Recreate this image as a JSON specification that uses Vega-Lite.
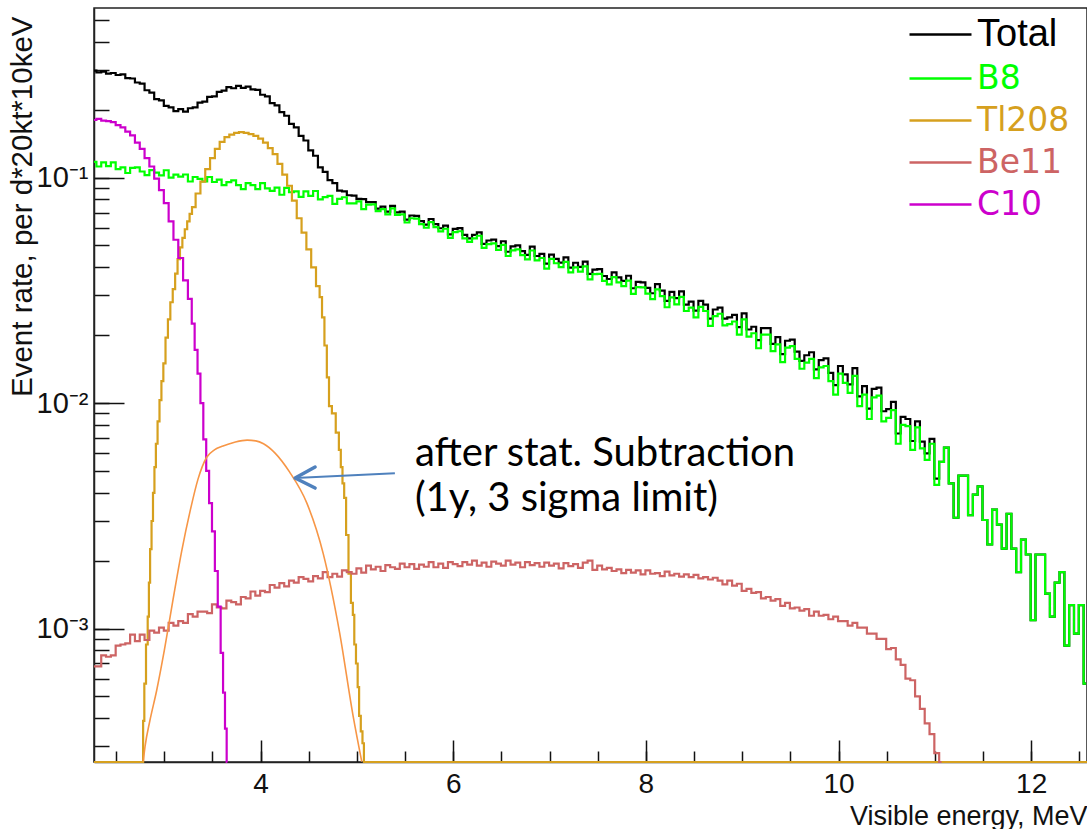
{
"$schema":"https://vega.github.io/schema/vega-lite/v6.json",
"width":993,"height":754,
"autosize":{"type":"none"},
"padding":{"left":94,"top":8,"right":0,"bottom":67},
"background":"white",
"config":{"view":{"stroke":"#222","strokeWidth":1.5},"font":"Liberation Sans"},
"resolve":{"axis":{"x":"independent","y":"independent"}},
"datasets":{
"tot":[{"E":2.27,"v":0.298},{"E":2.32,"v":0.293},{"E":2.37,"v":0.295},{"E":2.42,"v":0.289},{"E":2.47,"v":0.291},{"E":2.52,"v":0.285},{"E":2.57,"v":0.287},{"E":2.62,"v":0.276},{"E":2.67,"v":0.275},{"E":2.72,"v":0.264},{"E":2.77,"v":0.261},{"E":2.82,"v":0.244},{"E":2.87,"v":0.238},{"E":2.92,"v":0.223},{"E":2.97,"v":0.220},{"E":3.02,"v":0.208},{"E":3.07,"v":0.205},{"E":3.12,"v":0.197},{"E":3.17,"v":0.201},{"E":3.22,"v":0.196},{"E":3.27,"v":0.203},{"E":3.32,"v":0.205},{"E":3.37,"v":0.215},{"E":3.42,"v":0.217},{"E":3.47,"v":0.228},{"E":3.52,"v":0.229},{"E":3.57,"v":0.240},{"E":3.62,"v":0.243},{"E":3.67,"v":0.252},{"E":3.72,"v":0.249},{"E":3.77,"v":0.255},{"E":3.82,"v":0.250},{"E":3.87,"v":0.253},{"E":3.92,"v":0.246},{"E":3.97,"v":0.245},{"E":4.02,"v":0.233},{"E":4.07,"v":0.229},{"E":4.12,"v":0.214},{"E":4.17,"v":0.209},{"E":4.22,"v":0.195},{"E":4.27,"v":0.188},{"E":4.32,"v":0.173},{"E":4.37,"v":0.167},{"E":4.42,"v":0.153},{"E":4.47,"v":0.146},{"E":4.52,"v":0.132},{"E":4.57,"v":0.125},{"E":4.62,"v":0.111},{"E":4.67,"v":0.106},{"E":4.72,"v":0.0975},{"E":4.77,"v":0.0945},{"E":4.82,"v":0.0875},{"E":4.87,"v":0.0868},{"E":4.92,"v":0.0835},{"E":4.97,"v":0.0832},{"E":5.02,"v":0.0805},{"E":5.07,"v":0.0802},{"E":5.12,"v":0.0778},{"E":5.17,"v":0.0779},{"E":5.22,"v":0.0729},{"E":5.27,"v":0.0743},{"E":5.32,"v":0.0706},{"E":5.37,"v":0.0749},{"E":5.42,"v":0.0701},{"E":5.47,"v":0.0706},{"E":5.52,"v":0.0651},{"E":5.57,"v":0.0679},{"E":5.62,"v":0.0676},{"E":5.67,"v":0.0641},{"E":5.72,"v":0.0618},{"E":5.77,"v":0.0655},{"E":5.82,"v":0.0622},{"E":5.87,"v":0.0596},{"E":5.92,"v":0.0612},{"E":5.97,"v":0.0560},{"E":6.02,"v":0.0592},{"E":6.07,"v":0.0597},{"E":6.12,"v":0.0557},{"E":6.17,"v":0.0538},{"E":6.22,"v":0.0557},{"E":6.27,"v":0.0571},{"E":6.32,"v":0.0508},{"E":6.37,"v":0.0526},{"E":6.42,"v":0.0531},{"E":6.47,"v":0.0497},{"E":6.52,"v":0.0522},{"E":6.57,"v":0.0469},{"E":6.62,"v":0.0495},{"E":6.67,"v":0.0500},{"E":6.72,"v":0.0472},{"E":6.77,"v":0.0454},{"E":6.82,"v":0.0494},{"E":6.87,"v":0.0449},{"E":6.92,"v":0.0459},{"E":6.97,"v":0.0415},{"E":7.02,"v":0.0455},{"E":7.07,"v":0.0436},{"E":7.12,"v":0.0420},{"E":7.17,"v":0.0443},{"E":7.22,"v":0.0399},{"E":7.27,"v":0.0419},{"E":7.32,"v":0.0402},{"E":7.37,"v":0.0424},{"E":7.42,"v":0.0374},{"E":7.47,"v":0.0391},{"E":7.52,"v":0.0393},{"E":7.57,"v":0.0366},{"E":7.62,"v":0.0355},{"E":7.67,"v":0.0380},{"E":7.72,"v":0.0361},{"E":7.77,"v":0.0348},{"E":7.82,"v":0.0367},{"E":7.87,"v":0.0323},{"E":7.92,"v":0.0345},{"E":7.97,"v":0.0343},{"E":8.02,"v":0.0324},{"E":8.07,"v":0.0307},{"E":8.12,"v":0.0337},{"E":8.17,"v":0.0315},{"E":8.22,"v":0.0284},{"E":8.27,"v":0.0311},{"E":8.32,"v":0.0292},{"E":8.37,"v":0.0313},{"E":8.42,"v":0.0273},{"E":8.47,"v":0.0282},{"E":8.52,"v":0.0257},{"E":8.57,"v":0.0284},{"E":8.62,"v":0.0273},{"E":8.67,"v":0.0237},{"E":8.72,"v":0.0260},{"E":8.77,"v":0.0265},{"E":8.82,"v":0.0237},{"E":8.87,"v":0.0240},{"E":8.92,"v":0.0246},{"E":8.97,"v":0.0217},{"E":9.02,"v":0.0250},{"E":9.07,"v":0.0212},{"E":9.12,"v":0.0218},{"E":9.17,"v":0.0190},{"E":9.22,"v":0.0215},{"E":9.27,"v":0.0215},{"E":9.32,"v":0.0183},{"E":9.37,"v":0.0196},{"E":9.42,"v":0.0165},{"E":9.47,"v":0.0189},{"E":9.52,"v":0.0191},{"E":9.57,"v":0.0169},{"E":9.62,"v":0.0154},{"E":9.67,"v":0.0163},{"E":9.72,"v":0.0168},{"E":9.77,"v":0.0141},{"E":9.82,"v":0.0155},{"E":9.87,"v":0.0158},{"E":9.92,"v":0.0136},{"E":9.97,"v":0.0120},{"E":10.02,"v":0.0146},{"E":10.07,"v":0.0134},{"E":10.12,"v":0.0121},{"E":10.17,"v":0.0143},{"E":10.22,"v":0.0107},{"E":10.27,"v":0.0119},{"E":10.32,"v":0.00945},{"E":10.37,"v":0.01155},{"E":10.42,"v":0.0117},{"E":10.47,"v":0.0092},{"E":10.52,"v":0.00941},{"E":10.57,"v":0.01012},{"E":10.62,"v":0.00733},{"E":10.67,"v":0.00869},{"E":10.72,"v":0.0085},{"E":10.77,"v":0.00679},{"E":10.82,"v":0.0083},{"E":10.87,"v":0.00674},{"E":10.92,"v":0.00598},{"E":10.97,"v":0.00694},{"E":11.02,"v":0.00462},{"E":11.07,"v":0.00549},{"E":11.12,"v":0.00635},{"E":11.17,"v":0.00440},{"E":11.22,"v":0.00310},{"E":11.27,"v":0.00477},{"E":11.32,"v":0.00477},{"E":11.37,"v":0.00318},{"E":11.42,"v":0.00393},{"E":11.47,"v":0.00427},{"E":11.52,"v":0.00303},{"E":11.57,"v":0.00236},{"E":11.62,"v":0.00337},{"E":11.67,"v":0.00289},{"E":11.72,"v":0.00226},{"E":11.77,"v":0.00323},{"E":11.82,"v":0.00226},{"E":11.87,"v":0.00178},{"E":11.92,"v":0.00248},{"E":11.97,"v":0.00213},{"E":12.02,"v":0.00109},{"E":12.07,"v":0.00213},{"E":12.12,"v":0.00213},{"E":12.17,"v":0.00143},{"E":12.22,"v":0.00113},{"E":12.27,"v":0.00160},{"E":12.32,"v":0.00178},{"E":12.37,"v":0.00084},{"E":12.42,"v":0.00127},{"E":12.47,"v":0.00095},{"E":12.52,"v":0.00127},{"E":12.57,"v":0.00057}],
"b8":[{"E":2.27,"v":0.1174},{"E":2.32,"v":0.1120},{"E":2.37,"v":0.1168},{"E":2.42,"v":0.1124},{"E":2.47,"v":0.1168},{"E":2.52,"v":0.1091},{"E":2.57,"v":0.1109},{"E":2.62,"v":0.1048},{"E":2.67,"v":0.1104},{"E":2.72,"v":0.1110},{"E":2.77,"v":0.1064},{"E":2.82,"v":0.1026},{"E":2.87,"v":0.1079},{"E":2.92,"v":0.1052},{"E":2.97,"v":0.1023},{"E":3.02,"v":0.1078},{"E":3.07,"v":0.0999},{"E":3.12,"v":0.1031},{"E":3.17,"v":0.1009},{"E":3.22,"v":0.1032},{"E":3.27,"v":0.0961},{"E":3.32,"v":0.1006},{"E":3.37,"v":0.0987},{"E":3.42,"v":0.0961},{"E":3.47,"v":0.1006},{"E":3.52,"v":0.0956},{"E":3.57,"v":0.0979},{"E":3.62,"v":0.0925},{"E":3.67,"v":0.0955},{"E":3.72,"v":0.0972},{"E":3.77,"v":0.0925},{"E":3.82,"v":0.0888},{"E":3.87,"v":0.0945},{"E":3.92,"v":0.0926},{"E":3.97,"v":0.0889},{"E":4.02,"v":0.0944},{"E":4.07,"v":0.0896},{"E":4.12,"v":0.0873},{"E":4.17,"v":0.0902},{"E":4.22,"v":0.0839},{"E":4.27,"v":0.0901},{"E":4.32,"v":0.0861},{"E":4.37,"v":0.0869},{"E":4.42,"v":0.0821},{"E":4.47,"v":0.0869},{"E":4.52,"v":0.0829},{"E":4.57,"v":0.0872},{"E":4.62,"v":0.0801},{"E":4.67,"v":0.0819},{"E":4.72,"v":0.0829},{"E":4.77,"v":0.0764},{"E":4.82,"v":0.0804},{"E":4.87,"v":0.0818},{"E":4.92,"v":0.0768},{"E":4.97,"v":0.0768},{"E":5.02,"v":0.0784},{"E":5.07,"v":0.0725},{"E":5.12,"v":0.0759},{"E":5.17,"v":0.0761},{"E":5.22,"v":0.0710},{"E":5.27,"v":0.0725},{"E":5.32,"v":0.0687},{"E":5.37,"v":0.0730},{"E":5.42,"v":0.0683},{"E":5.47,"v":0.0687},{"E":5.52,"v":0.0632},{"E":5.57,"v":0.0660},{"E":5.62,"v":0.0658},{"E":5.67,"v":0.0622},{"E":5.72,"v":0.0599},{"E":5.77,"v":0.0635},{"E":5.82,"v":0.0603},{"E":5.87,"v":0.0577},{"E":5.92,"v":0.0593},{"E":5.97,"v":0.0540},{"E":6.02,"v":0.0573},{"E":6.07,"v":0.0578},{"E":6.12,"v":0.0537},{"E":6.17,"v":0.0519},{"E":6.22,"v":0.0537},{"E":6.27,"v":0.0552},{"E":6.32,"v":0.0488},{"E":6.37,"v":0.0507},{"E":6.42,"v":0.0511},{"E":6.47,"v":0.0478},{"E":6.52,"v":0.0503},{"E":6.57,"v":0.0449},{"E":6.62,"v":0.0476},{"E":6.67,"v":0.0480},{"E":6.72,"v":0.0453},{"E":6.77,"v":0.0434},{"E":6.82,"v":0.0475},{"E":6.87,"v":0.0429},{"E":6.92,"v":0.0440},{"E":6.97,"v":0.0395},{"E":7.02,"v":0.0436},{"E":7.07,"v":0.0417},{"E":7.12,"v":0.0401},{"E":7.17,"v":0.0423},{"E":7.22,"v":0.0380},{"E":7.27,"v":0.0400},{"E":7.32,"v":0.0383},{"E":7.37,"v":0.0404},{"E":7.42,"v":0.0354},{"E":7.47,"v":0.0373},{"E":7.52,"v":0.0374},{"E":7.57,"v":0.0348},{"E":7.62,"v":0.0336},{"E":7.67,"v":0.0362},{"E":7.72,"v":0.0343},{"E":7.77,"v":0.0330},{"E":7.82,"v":0.0349},{"E":7.87,"v":0.0305},{"E":7.92,"v":0.0327},{"E":7.97,"v":0.0326},{"E":8.02,"v":0.0306},{"E":8.07,"v":0.0289},{"E":8.12,"v":0.0319},{"E":8.17,"v":0.0298},{"E":8.22,"v":0.0266},{"E":8.27,"v":0.0294},{"E":8.32,"v":0.0274},{"E":8.37,"v":0.0296},{"E":8.42,"v":0.0256},{"E":8.47,"v":0.0265},{"E":8.52,"v":0.0240},{"E":8.57,"v":0.0267},{"E":8.62,"v":0.0256},{"E":8.67,"v":0.0220},{"E":8.72,"v":0.0243},{"E":8.77,"v":0.0249},{"E":8.82,"v":0.0221},{"E":8.87,"v":0.0224},{"E":8.92,"v":0.0230},{"E":8.97,"v":0.0201},{"E":9.02,"v":0.0235},{"E":9.07,"v":0.0197},{"E":9.12,"v":0.0204},{"E":9.17,"v":0.0175},{"E":9.22,"v":0.0201},{"E":9.27,"v":0.0201},{"E":9.32,"v":0.0170},{"E":9.37,"v":0.0182},{"E":9.42,"v":0.0152},{"E":9.47,"v":0.0176},{"E":9.52,"v":0.0179},{"E":9.57,"v":0.0157},{"E":9.62,"v":0.0142},{"E":9.67,"v":0.0151},{"E":9.72,"v":0.0157},{"E":9.77,"v":0.0129},{"E":9.82,"v":0.0144},{"E":9.87,"v":0.0146},{"E":9.92,"v":0.0125},{"E":9.97,"v":0.0109},{"E":10.02,"v":0.0135},{"E":10.07,"v":0.0123},{"E":10.12,"v":0.0111},{"E":10.17,"v":0.0132},{"E":10.22,"v":0.0097},{"E":10.27,"v":0.0109},{"E":10.32,"v":0.0085},{"E":10.37,"v":0.0106},{"E":10.42,"v":0.0108},{"E":10.47,"v":0.0083},{"E":10.52,"v":0.0086},{"E":10.57,"v":0.0093},{"E":10.62,"v":0.0066},{"E":10.67,"v":0.0080},{"E":10.72,"v":0.0079},{"E":10.77,"v":0.0062},{"E":10.82,"v":0.0078},{"E":10.87,"v":0.0063},{"E":10.92,"v":0.0056},{"E":10.97,"v":0.0066},{"E":11.02,"v":0.00434},{"E":11.07,"v":0.00549},{"E":11.12,"v":0.00635},{"E":11.17,"v":0.00440},{"E":11.22,"v":0.00310},{"E":11.27,"v":0.00477},{"E":11.32,"v":0.00477},{"E":11.37,"v":0.00318},{"E":11.42,"v":0.00393},{"E":11.47,"v":0.00427},{"E":11.52,"v":0.00303},{"E":11.57,"v":0.00236},{"E":11.62,"v":0.00337},{"E":11.67,"v":0.00289},{"E":11.72,"v":0.00226},{"E":11.77,"v":0.00323},{"E":11.82,"v":0.00226},{"E":11.87,"v":0.00178},{"E":11.92,"v":0.00248},{"E":11.97,"v":0.00213},{"E":12.02,"v":0.00109},{"E":12.07,"v":0.00213},{"E":12.12,"v":0.00213},{"E":12.17,"v":0.00143},{"E":12.22,"v":0.00113},{"E":12.27,"v":0.00160},{"E":12.32,"v":0.00178},{"E":12.37,"v":0.00084},{"E":12.42,"v":0.00127},{"E":12.47,"v":0.00095},{"E":12.52,"v":0.00127},{"E":12.57,"v":0.00057}],
"tl":[{"E":2.27,"v":0.000001},{"E":2.775,"v":0.000001},{"E":2.785,"v":0.00039},{"E":2.80,"v":0.00057},{"E":2.82,"v":0.00085},{"E":2.835,"v":0.00113},{"E":2.845,"v":0.0016},{"E":2.86,"v":0.00225},{"E":2.875,"v":0.0030},{"E":2.89,"v":0.0040},{"E":2.905,"v":0.0052},{"E":2.92,"v":0.0066},{"E":2.94,"v":0.0083},{"E":2.96,"v":0.0103},{"E":2.98,"v":0.0125},{"E":3.00,"v":0.015},{"E":3.025,"v":0.0195},{"E":3.05,"v":0.0235},{"E":3.075,"v":0.028},{"E":3.10,"v":0.032},{"E":3.125,"v":0.0375},{"E":3.15,"v":0.0435},{"E":3.175,"v":0.049},{"E":3.20,"v":0.054},{"E":3.225,"v":0.059},{"E":3.25,"v":0.064},{"E":3.275,"v":0.069},{"E":3.30,"v":0.074},{"E":3.35,"v":0.085},{"E":3.40,"v":0.096},{"E":3.45,"v":0.109},{"E":3.50,"v":0.122},{"E":3.55,"v":0.134},{"E":3.60,"v":0.144},{"E":3.65,"v":0.151},{"E":3.70,"v":0.155},{"E":3.75,"v":0.158},{"E":3.80,"v":0.159},{"E":3.85,"v":0.158},{"E":3.90,"v":0.156},{"E":3.95,"v":0.153},{"E":4.00,"v":0.149},{"E":4.05,"v":0.143},{"E":4.10,"v":0.135},{"E":4.15,"v":0.127},{"E":4.20,"v":0.115},{"E":4.25,"v":0.103},{"E":4.30,"v":0.092},{"E":4.35,"v":0.079},{"E":4.40,"v":0.066},{"E":4.45,"v":0.057},{"E":4.50,"v":0.048},{"E":4.55,"v":0.040},{"E":4.60,"v":0.033},{"E":4.625,"v":0.0295},{"E":4.65,"v":0.024},{"E":4.675,"v":0.018},{"E":4.70,"v":0.013},{"E":4.72,"v":0.0097},{"E":4.76,"v":0.0090},{"E":4.80,"v":0.0074},{"E":4.825,"v":0.0062},{"E":4.84,"v":0.0052},{"E":4.86,"v":0.0044},{"E":4.875,"v":0.0038},{"E":4.90,"v":0.0026},{"E":4.925,"v":0.00175},{"E":4.95,"v":0.0013},{"E":4.965,"v":0.00115},{"E":4.98,"v":0.00085},{"E":5.00,"v":0.0007},{"E":5.015,"v":0.00055},{"E":5.03,"v":0.00041},{"E":5.05,"v":0.00035},{"E":5.065,"v":0.00031},{"E":5.08,"v":0.000001},{"E":12.58,"v":0.000001}],
"be":[{"E":2.27,"v":0.00068},{"E":2.32,"v":0.00068},{"E":2.37,"v":0.00076},{"E":2.42,"v":0.00075},{"E":2.47,"v":0.00076},{"E":2.52,"v":0.00084},{"E":2.57,"v":0.00085},{"E":2.62,"v":0.00086},{"E":2.67,"v":0.00094},{"E":2.72,"v":0.00088},{"E":2.77,"v":0.00094},{"E":2.82,"v":0.00089},{"E":2.87,"v":0.00098},{"E":2.92,"v":0.00096},{"E":2.97,"v":0.00101},{"E":3.02,"v":0.00098},{"E":3.07,"v":0.00106},{"E":3.12,"v":0.00103},{"E":3.17,"v":0.00108},{"E":3.22,"v":0.00106},{"E":3.27,"v":0.00116},{"E":3.32,"v":0.00113},{"E":3.37,"v":0.00119},{"E":3.42,"v":0.00119},{"E":3.47,"v":0.00117},{"E":3.52,"v":0.00128},{"E":3.57,"v":0.00124},{"E":3.62,"v":0.00123},{"E":3.67,"v":0.00133},{"E":3.72,"v":0.00131},{"E":3.77,"v":0.00128},{"E":3.82,"v":0.00138},{"E":3.87,"v":0.00136},{"E":3.92,"v":0.00146},{"E":3.97,"v":0.00140},{"E":4.02,"v":0.00147},{"E":4.07,"v":0.00145},{"E":4.12,"v":0.00156},{"E":4.17,"v":0.00152},{"E":4.22,"v":0.00159},{"E":4.27,"v":0.00154},{"E":4.32,"v":0.00163},{"E":4.37,"v":0.00160},{"E":4.42,"v":0.00169},{"E":4.47,"v":0.00166},{"E":4.52,"v":0.00162},{"E":4.57,"v":0.00171},{"E":4.62,"v":0.00167},{"E":4.67,"v":0.00178},{"E":4.72,"v":0.00169},{"E":4.77,"v":0.00175},{"E":4.82,"v":0.00170},{"E":4.87,"v":0.00181},{"E":4.92,"v":0.00178},{"E":4.97,"v":0.00175},{"E":5.02,"v":0.00185},{"E":5.07,"v":0.00177},{"E":5.12,"v":0.00190},{"E":5.17,"v":0.00183},{"E":5.22,"v":0.00188},{"E":5.27,"v":0.00180},{"E":5.32,"v":0.00191},{"E":5.37,"v":0.00187},{"E":5.42,"v":0.00184},{"E":5.47,"v":0.00194},{"E":5.52,"v":0.00187},{"E":5.57,"v":0.00193},{"E":5.62,"v":0.00184},{"E":5.67,"v":0.00192},{"E":5.72,"v":0.00188},{"E":5.77,"v":0.00197},{"E":5.82,"v":0.00187},{"E":5.87,"v":0.00194},{"E":5.92,"v":0.00186},{"E":5.97,"v":0.00197},{"E":6.02,"v":0.00193},{"E":6.07,"v":0.00189},{"E":6.12,"v":0.00197},{"E":6.17,"v":0.00192},{"E":6.22,"v":0.00200},{"E":6.27,"v":0.00190},{"E":6.32,"v":0.00196},{"E":6.37,"v":0.00188},{"E":6.42,"v":0.00198},{"E":6.47,"v":0.00194},{"E":6.52,"v":0.00190},{"E":6.57,"v":0.00200},{"E":6.62,"v":0.00192},{"E":6.67,"v":0.00196},{"E":6.72,"v":0.00187},{"E":6.77,"v":0.00197},{"E":6.82,"v":0.00191},{"E":6.87,"v":0.00195},{"E":6.92,"v":0.00188},{"E":6.97,"v":0.00196},{"E":7.02,"v":0.00190},{"E":7.07,"v":0.00194},{"E":7.12,"v":0.00185},{"E":7.17,"v":0.00195},{"E":7.22,"v":0.00189},{"E":7.27,"v":0.00193},{"E":7.32,"v":0.00186},{"E":7.37,"v":0.00196},{"E":7.42,"v":0.00200},{"E":7.47,"v":0.00182},{"E":7.52,"v":0.00190},{"E":7.57,"v":0.00183},{"E":7.62,"v":0.00186},{"E":7.67,"v":0.00180},{"E":7.72,"v":0.00183},{"E":7.77,"v":0.00176},{"E":7.82,"v":0.00182},{"E":7.87,"v":0.00177},{"E":7.92,"v":0.00181},{"E":7.97,"v":0.00174},{"E":8.02,"v":0.00181},{"E":8.07,"v":0.00175},{"E":8.12,"v":0.00176},{"E":8.17,"v":0.00171},{"E":8.22,"v":0.00179},{"E":8.27,"v":0.00172},{"E":8.32,"v":0.00175},{"E":8.37,"v":0.00170},{"E":8.42,"v":0.00174},{"E":8.47,"v":0.00169},{"E":8.52,"v":0.00173},{"E":8.57,"v":0.00167},{"E":8.62,"v":0.00169},{"E":8.67,"v":0.00165},{"E":8.72,"v":0.00168},{"E":8.77,"v":0.00163},{"E":8.82,"v":0.00157},{"E":8.87,"v":0.00163},{"E":8.92,"v":0.00155},{"E":8.97,"v":0.00158},{"E":9.02,"v":0.00147},{"E":9.07,"v":0.00150},{"E":9.12,"v":0.00144},{"E":9.17,"v":0.00145},{"E":9.22,"v":0.00136},{"E":9.27,"v":0.00138},{"E":9.32,"v":0.00133},{"E":9.37,"v":0.00135},{"E":9.42,"v":0.00126},{"E":9.47,"v":0.00130},{"E":9.52,"v":0.00123},{"E":9.57,"v":0.00124},{"E":9.62,"v":0.00120},{"E":9.67,"v":0.00122},{"E":9.72,"v":0.00114},{"E":9.77,"v":0.00119},{"E":9.82,"v":0.00114},{"E":9.87,"v":0.00115},{"E":9.92,"v":0.00110},{"E":9.97,"v":0.00113},{"E":10.02,"v":0.00108},{"E":10.07,"v":0.00108},{"E":10.12,"v":0.00103},{"E":10.17,"v":0.00106},{"E":10.22,"v":0.00101},{"E":10.27,"v":0.00101},{"E":10.32,"v":0.00095},{"E":10.37,"v":0.00095},{"E":10.42,"v":0.00090},{"E":10.47,"v":0.00090},{"E":10.52,"v":0.00081},{"E":10.57,"v":0.00082},{"E":10.62,"v":0.00073},{"E":10.67,"v":0.00069},{"E":10.72,"v":0.00060},{"E":10.77,"v":0.00059},{"E":10.82,"v":0.00050},{"E":10.87,"v":0.00044},{"E":10.92,"v":0.00038},{"E":10.97,"v":0.00034},{"E":11.02,"v":0.00028},{"E":11.07,"v":0.000001}],
"c10":[{"E":2.27,"v":0.180},{"E":2.32,"v":0.182},{"E":2.37,"v":0.179},{"E":2.42,"v":0.178},{"E":2.47,"v":0.176},{"E":2.52,"v":0.171},{"E":2.57,"v":0.167},{"E":2.62,"v":0.160},{"E":2.67,"v":0.154},{"E":2.72,"v":0.143},{"E":2.77,"v":0.134},{"E":2.82,"v":0.122},{"E":2.87,"v":0.112},{"E":2.92,"v":0.099},{"E":2.97,"v":0.088},{"E":3.02,"v":0.077},{"E":3.07,"v":0.064},{"E":3.12,"v":0.053},{"E":3.17,"v":0.044},{"E":3.22,"v":0.035},{"E":3.27,"v":0.029},{"E":3.30,"v":0.0225},{"E":3.33,"v":0.0172},{"E":3.36,"v":0.0135},{"E":3.39,"v":0.0100},{"E":3.42,"v":0.0069},{"E":3.45,"v":0.0050},{"E":3.48,"v":0.0036},{"E":3.51,"v":0.0027},{"E":3.54,"v":0.0018},{"E":3.57,"v":0.00125},{"E":3.60,"v":0.00078},{"E":3.62,"v":0.00052},{"E":3.64,"v":0.00036},{"E":3.655,"v":0.000001}],
"sub":[{"E":2.781,"v":0.000257},{"E":2.80,"v":0.0003},{"E":2.85,"v":0.00039},{"E":2.92,"v":0.00053},{"E":3.00,"v":0.0008},{"E":3.09,"v":0.00134},{"E":3.18,"v":0.0022},{"E":3.27,"v":0.00335},{"E":3.35,"v":0.0046},{"E":3.44,"v":0.00575},{"E":3.52,"v":0.0062},{"E":3.61,"v":0.00645},{"E":3.73,"v":0.0067},{"E":3.86,"v":0.00685},{"E":3.95,"v":0.0068},{"E":4.03,"v":0.0066},{"E":4.15,"v":0.006},{"E":4.30,"v":0.00495},{"E":4.48,"v":0.0036},{"E":4.65,"v":0.00215},{"E":4.82,"v":0.00096},{"E":4.96,"v":0.00041},{"E":5.05,"v":0.000257}],
"note":[{"E":5.602,"v":0.00525,"t":"after stat. Subtraction"},{"E":5.602,"v":0.00332,"t":"(1y, 3 sigma limit)"}],
"arr":[{"E":5.394,"v":0.00489},{"E":4.358,"v":0.00465}],
"head":[{"E":4.358,"v":0.00465}]
},
"encoding":{
"x":{"field":"E","type":"quantitative","scale":{"domain":[2.27,12.58],"nice":false,"zero":false},"axis":null},
"y":{"field":"v","type":"quantitative","scale":{"type":"log","domain":[0.000256,0.565],"nice":false,"clamp":true},"axis":null}
},
"layer":[
{"data":{"name":"tot"},"mark":{"type":"line","interpolate":"step","strokeWidth":2.2},
 "encoding":{
 "x":{"field":"E","type":"quantitative","scale":{"domain":[2.27,12.58],"nice":false,"zero":false},
  "axis":{"orient":"bottom","values":[2.5,3,3.5,4,4.5,5,5.5,6,6.5,7,7.5,8,8.5,9,9.5,10,10.5,11,11.5,12,12.5],
  "labelExpr":"datum.value % 2 === 0 ? format(datum.value, 'd') : ''",
  "tickSize":-11,"tickColor":"#111","tickWidth":1.5,"domainColor":"#222","domainWidth":1.5,"grid":false,
  "labelFont":"Liberation Sans","labelFontSize":28,"labelColor":"#111","labelPadding":19,"labelOverlap":false,"labelFlush":false,
  "title":"Visible energy, MeV","titleFont":"Liberation Sans","titleFontSize":27,"titleFontWeight":"normal","titleColor":"#111",
  "titleX":993,"titleY":54,"titleAlign":"right","titleBaseline":"middle"}},
 "y":{"field":"v","type":"quantitative","scale":{"type":"log","domain":[0.000256,0.565],"nice":false,"clamp":true},
  "axis":{"orient":"left","values":[0.0003,0.0004,0.0005,0.0006,0.0007,0.0008,0.0009,0.001,0.002,0.003,0.004,0.005,0.006,0.007,0.008,0.009,0.01,0.02,0.03,0.04,0.05,0.06,0.07,0.08,0.09,0.1,0.2,0.3,0.4,0.5],
  "labelExpr":"datum.value == 0.1 ? '10⁻¹' : datum.value == 0.01 ? '10⁻²' : datum.value == 0.001 ? '10⁻³' : ''",
  "tickSize":-15,"tickColor":"#111","tickWidth":1.5,"domainColor":"#222","domainWidth":1.5,"grid":false,
  "labelFont":"Liberation Sans","labelFontSize":29,"labelColor":"#111","labelPadding":21,"labelOverlap":false,"labelFlush":false,
  "title":"Event rate, per d*20kt*10keV","titleFont":"Liberation Sans","titleFontSize":29.5,"titleFontWeight":"normal","titleColor":"#111",
  "titleX":-72,"titleY":8,"titleAngle":-90,"titleAlign":"right","titleBaseline":"middle"}},
 "color":{"datum":"Total","type":"nominal",
  "scale":{"domain":["Total","B8","Tl208","Be11","C10"],"range":["#000000","#00ff00","#d6a01e","#cd6464","#cc00cc"]},
  "legend":{"orient":"none","legendX":830,"legendY":10,"title":null,"symbolType":"M-2.583,0H2.583","symbolSize":576,"symbolStrokeWidth":2.5,
   "labelOffset":20,"rowPadding":8,"padding":0,"labelFont":"DejaVu Sans","labelFontSize":33,"labelLimit":300,
   "encode":{"labels":{"update":{"fill":{"scale":"color","field":"value"},"fontSize":{"signal":"datum.value === 'Total' ? 38 : 33"},"font":{"signal":"datum.value === 'Total' ? 'Liberation Sans' : 'DejaVu Sans'"}}}}}}}},
{"data":{"name":"b8"},"mark":{"type":"line","interpolate":"step","strokeWidth":2.2},
 "encoding":{
 "x":{"field":"E","type":"quantitative","scale":{"domain":[2.27,12.58],"nice":false,"zero":false},
  "axis":{"orient":"bottom","values":[4,6,8,10,12],"tickSize":-22,"tickColor":"#111","tickWidth":1.5,"domain":false,"labels":false,"grid":false,"title":null}},
 "y":{"field":"v","type":"quantitative","scale":{"type":"log","domain":[0.000256,0.565],"nice":false,"clamp":true},
  "axis":{"orient":"left","values":[0.001,0.01,0.1],"tickSize":-30,"tickColor":"#111","tickWidth":1.5,"domain":false,"labels":false,"grid":false,"title":null}},
 "color":{"datum":"B8","type":"nominal"}}},
{"data":{"name":"tl"},"mark":{"type":"line","interpolate":"step","strokeWidth":2.2},"encoding":{"color":{"datum":"Tl208","type":"nominal"}}},
{"data":{"name":"be"},"mark":{"type":"line","interpolate":"step","strokeWidth":2.2},"encoding":{"color":{"datum":"Be11","type":"nominal"}}},
{"data":{"name":"c10"},"mark":{"type":"line","interpolate":"step","strokeWidth":2.2},"encoding":{"color":{"datum":"C10","type":"nominal"}}},
{"data":{"name":"sub"},"mark":{"type":"line","interpolate":"monotone","strokeWidth":1.6,"color":"#f79646"},"encoding":{}},
{"data":{"name":"arr"},"mark":{"type":"line","strokeWidth":2,"color":"#4f81bd"},"encoding":{}},
{"data":{"name":"head"},"mark":{"type":"point","shape":"M1,-0.55L0,0L1,0.5","size":1600,"filled":false,"stroke":"#4f81bd","strokeWidth":3.5,"strokeCap":"round","strokeJoin":"round","opacity":1},"encoding":{}},
{"data":{"name":"note"},"mark":{"type":"text","align":"left","baseline":"alphabetic","font":"Lato","fontSize":40,"color":"#000"},"encoding":{"text":{"field":"t","type":"nominal"}}}
]
}
